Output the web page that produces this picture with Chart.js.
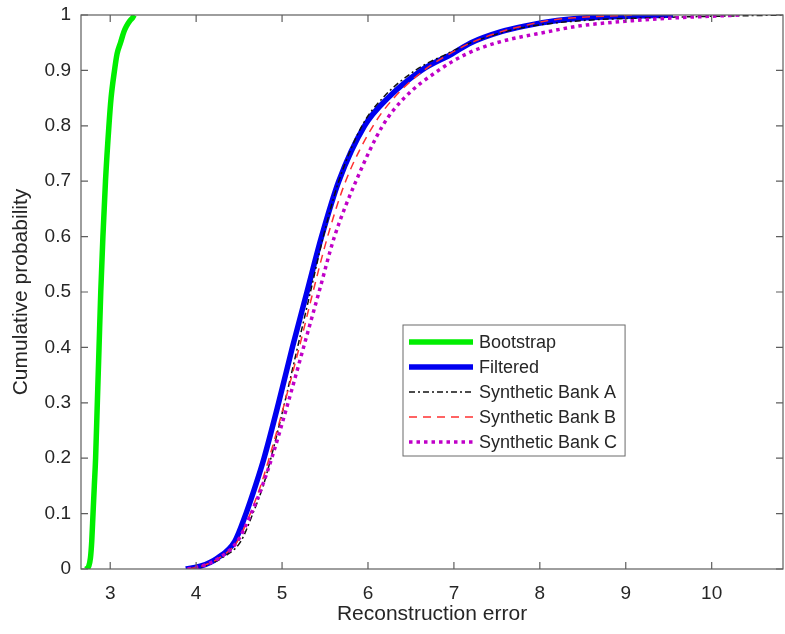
<!DOCTYPE html>
<html>
<head>
<meta charset="utf-8">
<script src="https://cdn.jsdelivr.net/npm/chart.js@4.4.1/dist/chart.umd.min.js"></script>
<style>
  html, body { margin: 0; padding: 0; background: #fff; }
  #wrap { width: 785px; height: 634px; }
</style>
</head>
<body>
<div id="wrap"><canvas id="cdfChart"></canvas></div>
<script>
// Livelli di probabilita cumulativa (comuni a tutte le serie)
const probLevels = [0, 0.005, 0.02, 0.05, 0.1, 0.15, 0.2, 0.3, 0.4, 0.5, 0.6, 0.7,
  0.8, 0.85, 0.9, 0.93, 0.95, 0.97, 0.98, 0.99, 0.995, 1];

// Errore di ricostruzione per ogni livello
const bootstrapErr = [2.72, 2.75, 2.77, 2.785, 2.8, 2.815, 2.83, 2.85, 2.87, 2.89, 2.915, 2.945,
  2.985, 3.01, 3.05, 3.08, 3.12, 3.16, 3.19, 3.23, 3.26, 3.28];
const filteredErr = [3.88, 4.05, 4.25, 4.45, 4.58, 4.69, 4.79, 4.96, 5.12, 5.29, 5.46, 5.66,
  5.96, 6.23, 6.62, 6.98, 7.2, 7.55, 7.82, 8.2, 8.55, 9.55];
const bankAErr = [3.9, 4.08, 4.3, 4.52, 4.66, 4.78, 4.87, 5.03, 5.18, 5.33, 5.48, 5.66,
  5.93, 6.17, 6.55, 6.92, 7.2, 7.6, 7.9, 8.5, 9.3, 10.83];
const bankBErr = [3.9, 4.06, 4.27, 4.48, 4.63, 4.75, 4.85, 5.03, 5.2, 5.36, 5.53, 5.74,
  6.06, 6.3, 6.65, 6.95, 7.2, 7.55, 7.8, 8.1, 8.4, 9.1];
const bankCErr = [3.9, 4.06, 4.27, 4.48, 4.64, 4.77, 4.88, 5.07, 5.25, 5.43, 5.61, 5.86,
  6.17, 6.42, 6.82, 7.15, 7.5, 8.1, 8.45, 9.1, 9.6, 10.35];

const seriesNames = ["Bootstrap", "Filtered", "Synthetic Bank A", "Synthetic Bank B", "Synthetic Bank C"];

const xTicks = [3, 4, 5, 6, 7, 8, 9, 10];
const yTicks = [0, 0.1, 0.2, 0.3, 0.4, 0.5, 0.6, 0.7, 0.8, 0.9, 1];

const toPoints = (errs) => errs.map((x, i) => ({ x: x, y: probLevels[i] }));

const FONT = "Arial, 'Liberation Sans', Helvetica, sans-serif";
const AXIS_COLOR = "#5e5e5e";

// Riquadro con tacche interne (stile MATLAB)
const boxPlugin = {
  id: "boxTicks",
  afterDatasetsDraw(chart) {
    const { ctx, chartArea: a, scales } = chart;
    const len = 7;
    ctx.save();
    ctx.strokeStyle = AXIS_COLOR;
    ctx.lineWidth = 1.2;
    ctx.beginPath();
    xTicks.forEach((v) => {
      const px = scales.x.getPixelForValue(v);
      ctx.moveTo(px, a.bottom);
      ctx.lineTo(px, a.bottom - len);
      ctx.moveTo(px, a.top);
      ctx.lineTo(px, a.top + len);
    });
    yTicks.forEach((v) => {
      const py = scales.y.getPixelForValue(v);
      ctx.moveTo(a.left, py);
      ctx.lineTo(a.left + len, py);
      ctx.moveTo(a.right, py);
      ctx.lineTo(a.right - len, py);
    });
    ctx.stroke();
    ctx.strokeRect(a.left, a.top, a.right - a.left, a.bottom - a.top);
    ctx.restore();
  },
};

// Legenda disegnata dentro l'area del grafico
const legendPlugin = {
  id: "insideLegend",
  afterDraw(chart) {
    const { ctx, chartArea: a } = chart;
    const x0 = a.left + 322;
    const y0 = a.top + 310;
    const rowH = 25;
    ctx.save();
    ctx.font = "18px " + FONT;
    let maxW = 0;
    chart.data.datasets.forEach((ds) => {
      maxW = Math.max(maxW, ctx.measureText(ds.label).width);
    });
    const boxW = 6 + 64 + 6 + maxW + 8;
    const boxH = rowH * chart.data.datasets.length + 6;
    ctx.fillStyle = "#fff";
    ctx.fillRect(x0, y0, boxW, boxH);
    ctx.strokeStyle = "#6a6a6a";
    ctx.lineWidth = 1;
    ctx.strokeRect(x0, y0, boxW, boxH);
    chart.data.datasets.forEach((ds, i) => {
      const cy = y0 + 17 + i * rowH;
      ctx.beginPath();
      ctx.strokeStyle = ds.borderColor;
      ctx.lineWidth = ds.borderWidth;
      ctx.setLineDash(ds.borderDash || []);
      ctx.moveTo(x0 + 6, cy);
      ctx.lineTo(x0 + 70, cy);
      ctx.stroke();
      ctx.setLineDash([]);
      ctx.fillStyle = "#262626";
      ctx.textBaseline = "middle";
      ctx.fillText(ds.label, x0 + 76, cy + 1);
    });
    ctx.restore();
  },
};

const initializeChart = () => {
  const ctx = document.getElementById("cdfChart").getContext("2d");
  const styles = [
    { color: "#00ee00", width: 5.5, dash: [], order: 5 },
    { color: "#0000f0", width: 5.5, dash: [], order: 4 },
    { color: "#111111", width: 1.5, dash: [6, 3, 2, 3], order: 3 },
    { color: "#ff3030", width: 1.5, dash: [8, 6], order: 2 },
    { color: "#c000c8", width: 3.5, dash: [3.5, 4], order: 1 },
  ];
  const errs = [bootstrapErr, filteredErr, bankAErr, bankBErr, bankCErr];

  new Chart(ctx, {
    type: "scatter",
    data: {
      datasets: errs.map((e, i) => ({
        label: seriesNames[i],
        data: toPoints(e),
        showLine: true,
        borderColor: styles[i].color,
        backgroundColor: styles[i].color,
        borderWidth: styles[i].width,
        borderDash: styles[i].dash,
        order: styles[i].order,
        pointRadius: 0,
        pointHoverRadius: 0,
        cubicInterpolationMode: "monotone",
      })),
    },
    options: {
      responsive: true,
      maintainAspectRatio: false,
      animation: false,
      layout: { padding: { top: 15, right: 2, left: 0, bottom: 0 } },
      plugins: {
        legend: { display: false },
        tooltip: { enabled: false },
      },
      scales: {
        x: {
          type: "linear",
          min: 2.66,
          max: 10.83,
          afterBuildTicks: (scale) => {
            scale.ticks = xTicks.map((v) => ({ value: v }));
          },
          afterFit: (scale) => {
            scale.height = 65;
            scale.paddingLeft = 0;
            scale.paddingRight = 0;
          },
          grid: { display: false, drawTicks: false },
          border: { display: false },
          ticks: {
            color: "#262626",
            font: { family: FONT, size: 19 },
            padding: 13,
            maxRotation: 0,
            callback: (v) => String(v),
          },
          title: {
            display: true,
            text: "Reconstruction error",
            color: "#262626",
            font: { family: FONT, size: 21 },
            padding: { top: 0, bottom: 7 },
          },
        },
        y: {
          type: "linear",
          min: 0,
          max: 1,
          afterBuildTicks: (scale) => {
            scale.ticks = yTicks.map((v) => ({ value: v }));
          },
          afterFit: (scale) => {
            scale.width = 81;
            scale.paddingTop = 0;
            scale.paddingBottom = 0;
          },
          grid: { display: false, drawTicks: false },
          border: { display: false },
          ticks: {
            color: "#262626",
            font: { family: FONT, size: 19 },
            padding: 10,
            callback: (v) => String(Math.round(v * 10) / 10),
          },
          title: {
            display: true,
            text: "Cumulative probability",
            color: "#262626",
            font: { family: FONT, size: 21 },
            padding: { top: 9, bottom: 0 },
          },
        },
      },
    },
    plugins: [boxPlugin, legendPlugin],
  });
};

document.addEventListener("DOMContentLoaded", initializeChart);
</script>
</body>
</html>
